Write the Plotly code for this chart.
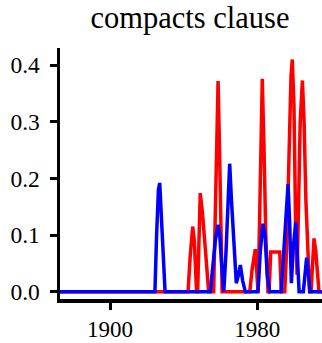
import plotly.graph_objects as go

# ---- data ----
red_years = [1870, 1942.4, 1943.5, 1944.9, 1945.8, 1947.0, 1947.6, 1949.0, 1950.2, 1951.3, 1952.4, 1953.6,
             1956.3, 1957.3, 1958.0, 1958.7, 1959.5, 1960.2, 1960.9,
             1975.9, 1977.2, 1978.9, 1979.7, 1980.4, 1981.2, 1982.0, 1982.7, 1983.6, 1984.6, 1985.8,
             1986.4, 1987.3, 1992.2, 1993.0,
             1994.9, 1996.0, 1997.2, 1998.3, 1999.0, 1999.9, 2000.8, 2001.6, 2002.4, 2003.3, 2004.5, 2005.4, 2006.4, 2007.4, 2008.4,
             2009.2, 2010.0, 2010.8, 2011.8, 2012.7, 2013.5, 2016]
red_vals = [0, 0, 0.06, 0.115, 0.09, 0.0, 0.0, 0.174, 0.14, 0.10, 0.05, 0.0,
            0, 0.15, 0.28, 0.372, 0.25, 0.08, 0.0,
            0, 0.04, 0.075, 0.04, 0.0, 0.12, 0.30, 0.376, 0.26, 0.10, 0.0,
            0, 0.07, 0.07, 0.0,
            0, 0.08, 0.256, 0.38, 0.41, 0.33, 0.12, 0.03, 0.15, 0.30, 0.373, 0.30, 0.16, 0.06, 0.0,
            0, 0.06, 0.094, 0.07, 0.03, 0.0, 0]

blue_years = [1870, 1924.4, 1925.3, 1926.3, 1927.0, 1927.8, 1928.8, 1929.9,
              1954.5, 1955.8, 1957.2, 1958.7, 1959.6, 1960.6, 1961.8,
              1963.0, 1964.0, 1965.0, 1966.0, 1967.2, 1968.6, 1969.8, 1970.8, 1972.0, 1973.5,
              1980.4, 1981.6, 1983.0, 1984.2, 1985.4, 1986.7,
              1993.0, 1994.5, 1995.7, 1996.7, 1997.6, 1998.5, 1999.6, 2000.9, 2001.8, 2002.7,
              2005.0, 2006.0, 2006.8, 2007.8, 2008.6, 2016]
blue_vals = [0, 0, 0.10, 0.18, 0.192, 0.13, 0.05, 0.0,
             0, 0.04, 0.09, 0.118, 0.10, 0.05, 0.0,
             0.07, 0.17, 0.226, 0.16, 0.08, 0.015, 0.03, 0.047, 0.02, 0.0,
             0, 0.07, 0.12, 0.10, 0.03, 0.0,
             0, 0.08, 0.15, 0.19, 0.12, 0.015, 0.08, 0.123, 0.06, 0.0,
             0, 0.04, 0.06, 0.03, 0.0, 0]

x_ticks = [1900, 1980]
y_ticks = [0.0, 0.1, 0.2, 0.3, 0.4]
title_text = "compacts clause"

fig = go.Figure()
fig.add_trace(go.Scatter(x=red_years, y=red_vals, mode="lines",
                         line=dict(color="#ff0000", width=3.5), showlegend=False))
fig.add_trace(go.Scatter(x=blue_years, y=blue_vals, mode="lines",
                         line=dict(color="#0000ff", width=3.5), showlegend=False))

font_family = "Liberation Serif"
fig.update_layout(
    width=322, height=343,
    margin=dict(l=60, r=0, t=48, b=44, autoexpand=False),
    paper_bgcolor="white", plot_bgcolor="white",
    title=dict(text=title_text, x=190 / 322, xanchor="center", xref="container",
               y=1 - 17.5 / 343, yanchor="middle", yref="container",
               font=dict(family=font_family, size=30.5, color="black")),
    font=dict(family=font_family, size=23, color="black"),
)
fig.update_xaxes(range=[1872.84, 2015.14], tickvals=x_ticks, ticktext=[str(v) for v in x_ticks],
                 showline=True, linewidth=3.5, linecolor="black", ticks="outside", ticklen=7,
                 tickwidth=3, tickcolor="black", showgrid=False, zeroline=False, automargin=False,
                 ticklabelstandoff=0,
                 tickfont=dict(family=font_family, size=23, color="black"))
fig.update_yaxes(range=[-0.0129, 0.4303], tickvals=y_ticks, ticktext=[f"{v:.1f}" for v in y_ticks],
                 showline=True, linewidth=3.5, linecolor="black", ticks="outside", ticklen=7,
                 tickwidth=3, tickcolor="black", showgrid=False, zeroline=False, automargin=False,
                 ticklabelstandoff=5,
                 tickfont=dict(family=font_family, size=23.5, color="black"))

fig.write_html("out.html", config={"displayModeBar": False, "staticPlot": True},
               post_script="document.body.style.margin='0px';document.body.style.overflow='hidden';")
